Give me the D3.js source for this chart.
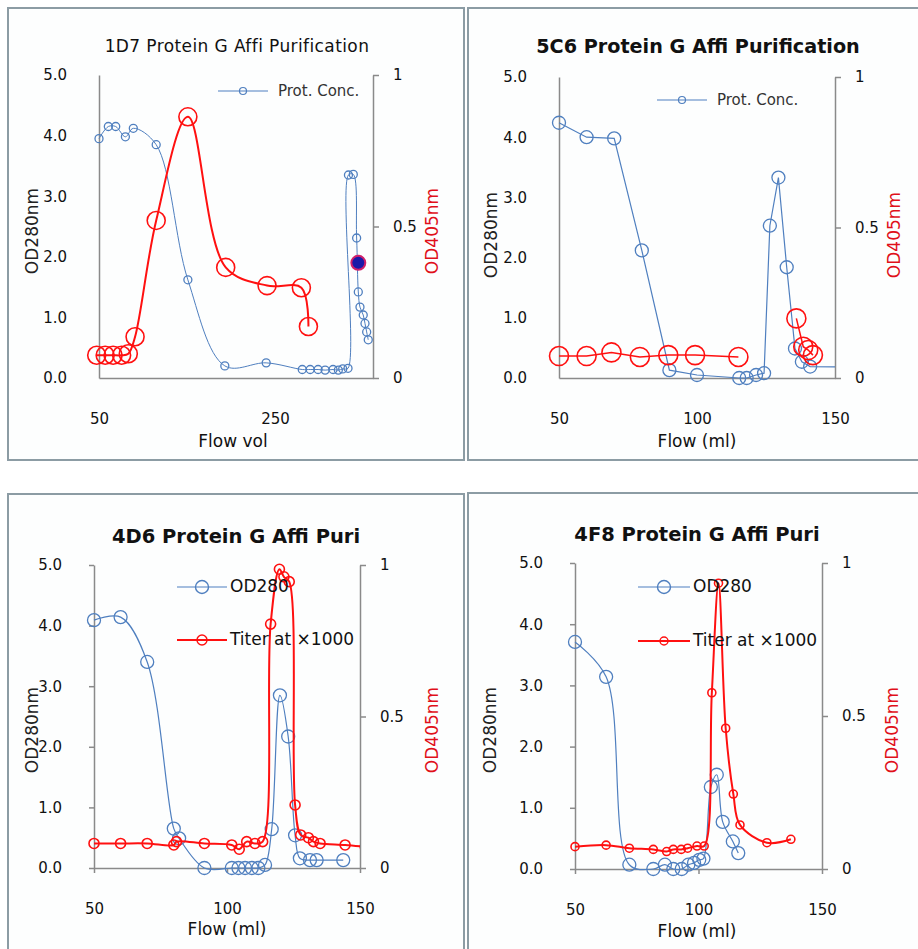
<!DOCTYPE html>
<html lang="en">
<head>
<meta charset="UTF-8">
<title>Protein G Affi Purification</title>
<script src="https://cdn.jsdelivr.net/npm/d3@7"></script>
<style>
  body { margin: 0; background: #fff; }
  svg text { font-family: 'DejaVu Sans', sans-serif; }
</style>
</head>
<body>
<svg id="chart" width="918" height="949"></svg>
<script>
// ---- data: [flow, value] pairs ----
// 1D7
const d7Prot = [[50,3.95],[60.6,4.15],[69,4.15],[80,3.98],[89,4.12],[115,3.85],[151,1.62],[193,0.2],[240,0.25],
  [281,0.14],[290,0.14],[299,0.14],[307,0.13],[316,0.14],[322,0.13],[327,0.15],[333,0.16],
  [333.5,3.35],[339,3.36],[342.8,2.31],[344.7,1.42],[346.6,1.17],[350.3,1.04],[352.3,0.9],[354.2,0.76],[356,0.63]];
const d7Titer = [[47.4,0.075],[57,0.075],[66,0.075],[75.7,0.075],[83.3,0.08],[91,0.136],[115,0.52],[151,0.862],
  [194,0.365],[241,0.305],[280,0.298],[288,0.17]];
const d7Spot = [[344.7,0.38]];
// 5C6
const c6Prot = [[50,4.24],[60,4.0],[70,3.98],[80,2.12],[90,0.13],[100,0.05],[115.3,0],[118,0],[121.4,0.05],
  [124.3,0.08],[126.4,2.53],[129.5,3.33],[132.5,1.84],[135.5,0.49],[138,0.27],[141,0.19],[155,0.18]];
const c6Titer = [[50,0.073],[60,0.073],[69,0.085],[79.3,0.07],[89.6,0.076],[99.3,0.076],[115,0.07],[125,null],
  [136,0.198],[138.5,0.104],[140.3,0.093],[142,0.076]];
// 4D6
const d6Prot = [[50,4.09],[60,4.14],[70,3.4],[80,0.65],[82,0.49],[91.5,0],[101.8,0],[104.3,0],[106.8,0],[109.3,0],
  [111.8,0],[114.3,0.05],[116.8,0.64],[119.9,2.85],[123,2.17],[125.6,0.54],[127.4,0.16],[131.2,0.13],[133.7,0.13],[143.7,0.13]];
const d6Titer = [[50,0.081],[60,0.081],[70,0.081],[80,0.076],[81,0.087],[91.5,0.081],[101.8,0.076],[104.6,0.062],
  [107.4,0.087],[110.5,0.081],[113.4,0.087],[116.4,0.805],[119.7,0.986],[121.4,0.961],[123.4,0.945],[125.6,0.208],
  [127.7,0.109],[130.6,0.1],[132.5,0.087],[135,0.081],[144.4,0.076],[152,0.07]];
// 4F8
const f8Prot = [[50,3.71],[62.6,3.14],[72,0.07],[81.7,0],[86.4,0.07],[89.8,0],[93.2,0],[95.9,0.07],[98.2,0.1],
  [100.3,0.15],[102,0.17],[105,1.34],[107.4,1.54],[109.8,0.77],[113.9,0.45],[116.1,0.26]];
const f8Titer = [[50,0.073],[62.6,0.078],[72,0.068],[81.7,0.064],[87.1,0.057],[89.8,0.064],[93,0.064],[95.6,0.068],
  [99.4,0.075],[102.3,0.075],[105.4,0.576],[108.1,0.934],[111,0.46],[114.1,0.245],[116.8,0.144],[127.7,0.086],[137.4,0.097]];

const titles = ["1D7 Protein G Affi Purification", "5C6 Protein G Affi Purification",
                "4D6 Protein G Affi Puri", "4F8 Protein G Affi Puri"];
const xTitles = ["Flow vol", "Flow (ml)", "Flow (ml)", "Flow (ml)"];
const leftTicks = [0, 1, 2, 3, 4, 5];
const rightTicks = [0, 0.5, 1];
const xTicks1 = [50, 250];
const xTicks = [50, 100, 150];
const legendProt = ["Prot. Conc."];
const legendOD = ["OD280", "Titer at \u00d71000"];

const BLUE = "#4f7fbf", RED = "#ff1010", AXIS = "#8a8a8a";
const svg = d3.select("#chart");
svg.append("rect").attr("width", 918).attr("height", 949).attr("fill", "#fff");

const panels = [
  { frame: [8, 8, 456, 452], xDomain: [50, 361.4], left: 99, right: 373, top: 75, bottom: 378,
    xTicks: xTicks1, tickL: 0, tickB: 0, bold: false, titleSize: 17, spacing: 0.4,
    titleXY: [237, 47], xTitleXY: [233, 442], yTitleX: 33, y2TitleX: 433, yTitleY: 231,
    prot: d7Prot, titer: d7Titer, spot: d7Spot, curve: d3.curveCatmullRom.alpha(0.5),
    protR: 4, titerR: 9, protW: 1, titerW: 2,
    legend: { kind: "prot", x1: 218, x2: 268, y: 91, mr: 3.5 } },
  { frame: [468, 8, 460, 452], xDomain: [50, 150], left: 559, right: 835, top: 77, bottom: 378,
    xTicks: xTicks, tickL: 0, tickB: 0, bold: true, titleSize: 19.2, spacing: 0,
    titleXY: [698, 47], xTitleXY: [697, 442], yTitleX: 492, y2TitleX: 895, yTitleY: 235,
    prot: c6Prot, titer: c6Titer, curve: d3.curveLinear,
    protR: 6.5, titerR: 9.5, protW: 1.2, titerW: 1.5,
    legend: { kind: "prot", x1: 657, x2: 707, y: 100, mr: 3.5 } },
  { frame: [8, 494, 456, 470], xDomain: [50, 150], left: 94, right: 360, top: 565, bottom: 868,
    xTicks: xTicks, tickL: 5, tickB: 5, bold: true, titleSize: 19.5, spacing: 0,
    titleXY: [236, 537], xTitleXY: [227, 930], yTitleX: 33, y2TitleX: 433, yTitleY: 730,
    prot: d6Prot, titer: d6Titer, curve: d3.curveCatmullRom.alpha(0.5),
    protR: 6.5, titerR: 5, protW: 1.2, titerW: 2,
    legend: { kind: "od", x1: 177, x2: 227, y: 587, y2: 640 } },
  { frame: [468, 493, 460, 470], xDomain: [50, 150], left: 575, right: 822, top: 563, bottom: 869,
    xTicks: xTicks, tickL: 5, tickB: 5, bold: true, titleSize: 19.5, spacing: 0,
    titleXY: [697, 535], xTitleXY: [697, 932], yTitleX: 491, y2TitleX: 893, yTitleY: 730,
    prot: f8Prot, titer: f8Titer, curve: d3.curveCatmullRom.alpha(0.5),
    protR: 6.5, titerR: 4, protW: 1.2, titerW: 2,
    legend: { kind: "od", x1: 638, x2: 690, y: 587, y2: 641 } }
];

function styleAxis(ax) {
  ax.select(".domain").attr("stroke", AXIS).attr("stroke-width", 1.5);
  ax.selectAll(".tick line").attr("stroke", AXIS).attr("stroke-width", 1.5);
  ax.selectAll(".tick text").attr("fill", "#111").style("font-size", "15px");
}

panels.forEach((c, i) => {
  const g = svg.append("g");
  const x = d3.scaleLinear().domain(c.xDomain).range([c.left, c.right]);
  const yL = d3.scaleLinear().domain([0, 5]).range([c.bottom, c.top]);
  const yR = d3.scaleLinear().domain([0, 1]).range([c.bottom, c.top]);

  g.append("rect").attr("x", c.frame[0]).attr("y", c.frame[1])
    .attr("width", c.frame[2]).attr("height", c.frame[3])
    .attr("fill", "#fdfefe").attr("stroke", "#8c9ca4").attr("stroke-width", 2);

  // axes
  styleAxis(g.append("g").attr("transform", `translate(${c.left},0)`)
    .call(d3.axisLeft(yL).tickValues(leftTicks).tickFormat(d3.format(".1f"))
      .tickSizeInner(c.tickL).tickSizeOuter(0).tickPadding(32 - c.tickL)));
  styleAxis(g.append("g").attr("transform", `translate(${c.right},0)`)
    .call(d3.axisRight(yR).tickValues(rightTicks).tickFormat(d => String(d))
      .tickSizeInner(6).tickSizeOuter(0).tickPadding(14)));
  styleAxis(g.append("g").attr("transform", `translate(0,${c.bottom})`)
    .call(d3.axisBottom(x).tickValues(c.xTicks).tickFormat(d3.format("d"))
      .tickSizeInner(c.tickB).tickSizeOuter(0).tickPadding(35 - c.tickB)));

  // titles
  g.append("text").attr("x", c.titleXY[0]).attr("y", c.titleXY[1]).attr("text-anchor", "middle")
    .attr("dominant-baseline", "middle").style("font-size", c.titleSize + "px")
    .style("letter-spacing", c.spacing + "px")
    .style("font-weight", c.bold ? "bold" : "normal").attr("fill", "#111").text(titles[i]);
  g.append("text").attr("x", c.xTitleXY[0]).attr("y", c.xTitleXY[1]).attr("text-anchor", "middle")
    .attr("dominant-baseline", "middle").style("font-size", "17px").attr("fill", "#111").text(xTitles[i]);
  g.append("text").attr("transform", `translate(${c.yTitleX},${c.yTitleY}) rotate(-90)`)
    .attr("text-anchor", "middle").attr("dominant-baseline", "middle")
    .style("font-size", "17px").attr("fill", "#222").text("OD280nm");
  g.append("text").attr("transform", `translate(${c.y2TitleX},${c.yTitleY}) rotate(-90)`)
    .attr("text-anchor", "middle").attr("dominant-baseline", "middle")
    .style("font-size", "17px").attr("fill", "#e0101a").text("OD405nm");

  // plot clip: keep markers at the left edge, cut at the right axis
  const clipId = "clip" + i;
  svg.append("clipPath").attr("id", clipId).append("rect")
    .attr("x", c.left - 30).attr("y", c.top - 30)
    .attr("width", c.right - c.left + 30).attr("height", c.bottom - c.top + 45);
  const plot = g.append("g").attr("clip-path", `url(#${clipId})`);

  const protLine = d3.line().x(d => x(d[0])).y(d => yL(d[1])).curve(c.curve);
  const titerLine = d3.line().defined(d => d[1] != null).x(d => x(d[0])).y(d => yR(d[1])).curve(c.curve);

  plot.append("path").datum(c.prot).attr("d", protLine)
    .attr("fill", "none").attr("stroke", BLUE).attr("stroke-width", c.protW);
  plot.selectAll(".pm").data(c.prot).join("circle")
    .attr("cx", d => x(d[0])).attr("cy", d => yL(d[1])).attr("r", c.protR)
    .attr("fill", "none").attr("stroke", BLUE).attr("stroke-width", 1.3);

  plot.append("path").datum(c.titer).attr("d", titerLine)
    .attr("fill", "none").attr("stroke", RED).attr("stroke-width", c.titerW);
  plot.selectAll(".tm").data(c.titer.filter(d => d[1] != null)).join("circle")
    .attr("cx", d => x(d[0])).attr("cy", d => yR(d[1])).attr("r", c.titerR)
    .attr("fill", "none").attr("stroke", RED).attr("stroke-width", 1.6);

  if (c.spot) {
    plot.selectAll(".sp").data(c.spot).join("circle")
      .attr("cx", d => x(d[0])).attr("cy", d => yR(d[1])).attr("r", 7)
      .attr("fill", "#1a1aa8").attr("stroke", "#d0206a").attr("stroke-width", 2);
  }

  // legend
  const L = c.legend;
  if (L.kind === "prot") {
    g.append("line").attr("x1", L.x1).attr("x2", L.x2).attr("y1", L.y).attr("y2", L.y)
      .attr("stroke", BLUE).attr("stroke-width", 1.2);
    g.append("circle").attr("cx", (L.x1 + L.x2) / 2).attr("cy", L.y).attr("r", L.mr)
      .attr("fill", "none").attr("stroke", BLUE).attr("stroke-width", 1.2);
    g.append("text").attr("x", L.x2 + 10).attr("y", L.y).attr("dominant-baseline", "middle")
      .style("font-size", "15px").attr("fill", "#333").text(legendProt[0]);
  } else {
    [[L.y, BLUE, c.protR, 1.2], [L.y2, RED, c.titerR, 2]].forEach((e, k) => {
      g.append("line").attr("x1", L.x1).attr("x2", L.x2).attr("y1", e[0]).attr("y2", e[0])
        .attr("stroke", e[1]).attr("stroke-width", e[3]);
      g.append("circle").attr("cx", (L.x1 + L.x2) / 2).attr("cy", e[0]).attr("r", e[2])
        .attr("fill", "none").attr("stroke", e[1]).attr("stroke-width", 1.4);
      g.append("text").attr("x", L.x2 + 3).attr("y", e[0]).attr("dominant-baseline", "middle")
        .style("font-size", "17px").attr("fill", "#111").text(legendOD[k]);
    });
  }
});
</script>
</body>
</html>
